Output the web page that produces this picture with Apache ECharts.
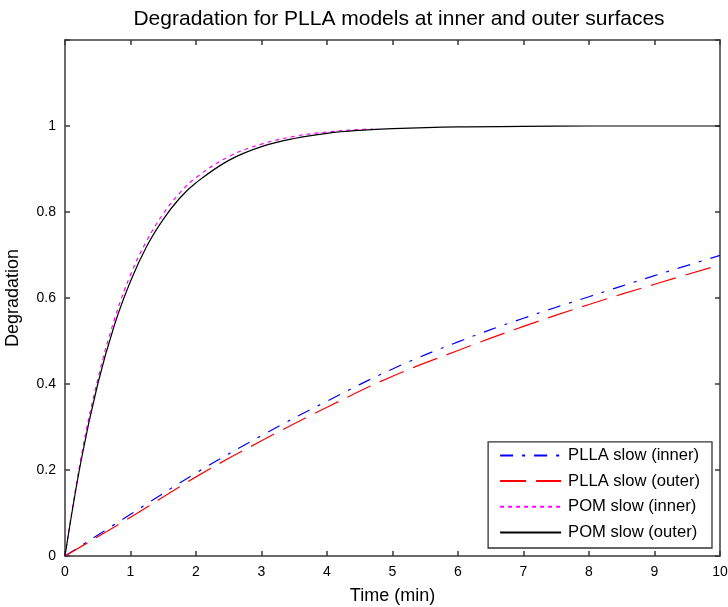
<!DOCTYPE html>
<html>
<head>
<meta charset="utf-8">
<script src="https://cdn.jsdelivr.net/npm/echarts@6/dist/echarts.min.js"></script>
<style>html,body{margin:0;padding:0;background:#fff}#c{width:728px;height:607px}</style>
</head>
<body>
<div id="c"></div>
<script>
// Time points and values
const pllaTime = [0, 1, 2, 3, 4, 5, 6, 7, 8, 9, 10];
const pllaInner = [0, 0.097, 0.193, 0.280, 0.360, 0.435, 0.498, 0.553, 0.603, 0.652, 0.699];
const pllaOuter = [0, 0.090, 0.184, 0.268, 0.346, 0.418, 0.478, 0.534, 0.585, 0.632, 0.677];

const pomInnerTime = [0, 0.25, 0.5, 0.75, 1, 1.25, 1.5, 1.75, 2, 2.5, 3, 3.5, 4, 4.5, 4.7];
const pomInner = [0, 0.233, 0.411, 0.548, 0.654, 0.734, 0.796, 0.844, 0.880, 0.929, 0.958, 0.976, 0.986, 0.992, 0.993];

const pomOuterTime = [0, 0.25, 0.5, 0.75, 1, 1.25, 1.5, 1.75, 2, 2.5, 3, 3.5, 4, 4.5, 5, 6, 7, 8, 9, 10];
const pomOuter = [0, 0.225, 0.400, 0.535, 0.639, 0.721, 0.783, 0.832, 0.868, 0.920, 0.952, 0.971, 0.983, 0.990, 0.994, 0.998, 0.999, 1.0, 1.0, 1.0];

const seriesNames = ['PLLA slow (inner)', 'PLLA slow (outer)', 'POM slow (inner)', 'POM slow (outer)'];
const xTicks = [0, 1, 2, 3, 4, 5, 6, 7, 8, 9, 10];
const yTicks = [0, 0.2, 0.4, 0.6, 0.8, 1];

const pair = (xs, ys) => xs.map((x, i) => [x, ys[i]]);

const axisColor = '#3a3a3a';
const font = 'Arial, "Liberation Sans", sans-serif';

const chart = echarts.init(document.getElementById('c'));
const baseX = {
  type: 'value', min: 0, max: 10, interval: 1,
  axisLine: { show: true, onZero: false, lineStyle: { color: axisColor, width: 1.5 } },
  axisTick: { show: true, inside: true, length: 5, lineStyle: { color: axisColor, width: 1.5 } },
  splitLine: { show: false }
};
const baseY = {
  type: 'value', min: 0, max: 1.2, interval: 0.2,
  axisLine: { show: true, onZero: false, lineStyle: { color: axisColor, width: 1.5 } },
  axisTick: { show: true, inside: true, length: 5, lineStyle: { color: axisColor, width: 1.5 } },
  splitLine: { show: false }
};

chart.setOption({
  animation: false,
  backgroundColor: '#fff',
  title: {
    text: 'Degradation for PLLA models at inner and outer surfaces',
    left: 394, top: 4, textAlign: 'center',
    textStyle: { fontFamily: font, fontSize: 21, fontWeight: 'normal', color: '#000' }
  },
  grid: { left: 65, right: 8, top: 40, bottom: 51, outerBoundsMode: 'none', containLabel: false },
  legend: {
    data: seriesNames,
    orient: 'vertical',
    right: 16, bottom: 59,
    padding: [5, 12, 7, 11],
    itemGap: 8.7,
    itemWidth: 61, itemHeight: 16,
    borderColor: '#333', borderWidth: 1.3, borderRadius: 0,
    backgroundColor: '#fff',
    itemStyle: { opacity: 0 },
    textStyle: { fontFamily: font, fontSize: 16.6, color: '#000', padding: [0, 0, 0, 2] }
  },
  xAxis: [
    Object.assign({}, baseX, {
      position: 'bottom',
      name: 'Time (min)', nameLocation: 'middle', nameGap: 31,
      nameTextStyle: { fontFamily: font, fontSize: 18, color: '#000' },
      axisLabel: { show: true, margin: 9, fontFamily: font, fontSize: 14, color: '#000',
        formatter: v => xTicks.includes(v) ? String(v) : '' }
    }),
    Object.assign({}, baseX, { position: 'top', axisLabel: { show: false } })
  ],
  yAxis: [
    Object.assign({}, baseY, {
      position: 'left',
      name: 'Degradation', nameLocation: 'middle', nameGap: 43,
      nameTextStyle: { fontFamily: font, fontSize: 18, color: '#000' },
      axisLabel: { show: true, margin: 9, fontFamily: font, fontSize: 14, color: '#000',
        formatter: v => {
          const r = Math.round(v * 10) / 10;
          return yTicks.includes(r) ? String(r) : '';
        } }
    }),
    Object.assign({}, baseY, { position: 'right', axisLabel: { show: false } })
  ],
  series: [
    { name: seriesNames[0], type: 'line', data: pair(pllaTime, pllaInner),
      smooth: 0.4, symbol: 'none', lineStyle: { color: '#0000ff', width: 1.2, type: [13, 9, 3, 9] }, itemStyle: { color: '#0000ff' } },
    { name: seriesNames[1], type: 'line', data: pair(pllaTime, pllaOuter),
      smooth: 0.4, symbol: 'none', lineStyle: { color: '#ff0000', width: 1.2, type: [26, 10] }, itemStyle: { color: '#ff0000' } },
    { name: seriesNames[2], type: 'line', data: pair(pomInnerTime, pomInner),
      smooth: 0.4, symbol: 'none', lineStyle: { color: '#ff00ff', width: 1.2, type: [4, 4] }, itemStyle: { color: '#ff00ff' } },
    { name: seriesNames[3], type: 'line', data: pair(pomOuterTime, pomOuter),
      smooth: 0.4, symbol: 'none', lineStyle: { color: '#000', width: 1.2, type: 'solid' }, itemStyle: { color: '#000' } }
  ]
});
</script>
</body>
</html>
